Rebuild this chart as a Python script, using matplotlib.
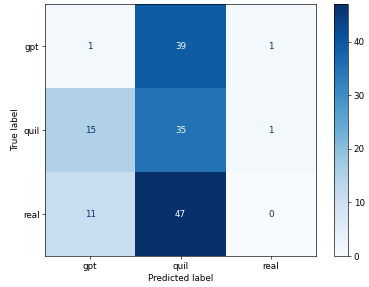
import numpy as np
import matplotlib
matplotlib.use("Agg")
import matplotlib.pyplot as plt

labels = ["gpt", "quil", "real"]
cm = np.array([[1, 39, 1],
               [15, 35, 1],
               [11, 47, 0]])

# the picture looks like a default-size figure scaled down, so use a low dpi
DPI = 57.7
plt.rcParams["font.size"] = 11
fig = plt.figure(figsize=(369 / DPI, 287 / DPI), dpi=DPI)
ax = fig.add_axes([45 / 369, 31 / 287, 271 / 369, 252 / 287])
cax = fig.add_axes([334 / 369, 31 / 287, 14 / 369, 252 / 287])

cmap = plt.cm.Blues
im = ax.imshow(cm, cmap=cmap, aspect="auto", interpolation="nearest")
cbar = fig.colorbar(im, cax=cax)
cbar.set_ticks([0, 10, 20, 30, 40])

# text colour: light on dark cells, dark on light cells
thresh = (cm.max() + cm.min()) / 2.0
for i in range(cm.shape[0]):
    for j in range(cm.shape[1]):
        color = cmap(0) if cm[i, j] > thresh else cmap(256)
        ax.text(j, i, str(cm[i, j]), ha="center", va="center", color=color)

ax.set_xticks(range(len(labels)))
ax.set_yticks(range(len(labels)))
ax.set_xticklabels(labels)
ax.set_yticklabels(labels)
ax.set_xlabel("Predicted label")
ax.set_ylabel("True label")

fig.savefig("out.png", dpi=DPI)
